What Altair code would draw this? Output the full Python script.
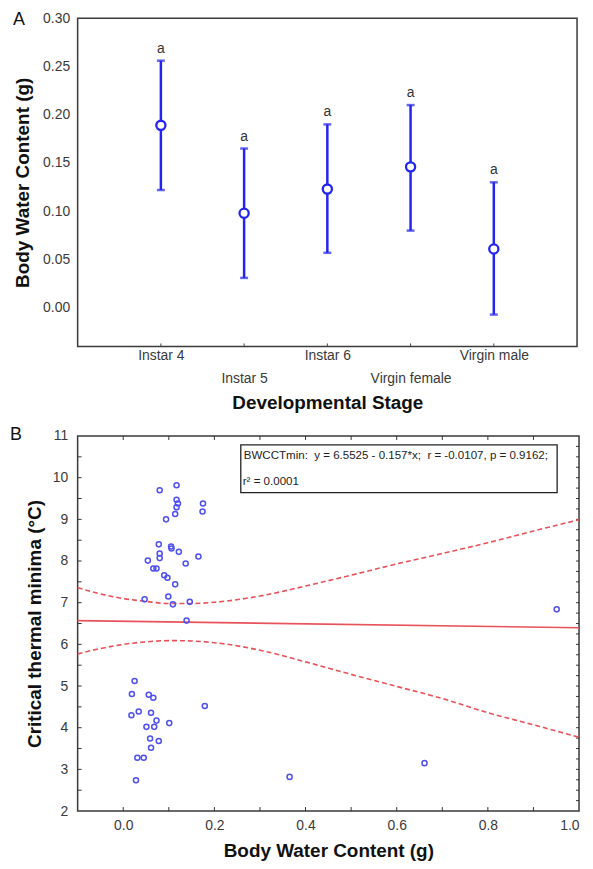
import altair as alt
import pandas as pd

# ---------------- Panel A data ----------------
stages = ["Instar 4", "Instar 5", "Instar 6", "Virgin female", "Virgin male"]
bwc_mean = [0.189, 0.098, 0.123, 0.146, 0.061]
bwc_low = [0.122, 0.031, 0.057, 0.080, -0.007]
bwc_high = [0.256, 0.165, 0.190, 0.210, 0.130]
letters = ["a", "a", "a", "a", "a"]
y_ticks_a = [0.00, 0.05, 0.10, 0.15, 0.20, 0.25, 0.30]

# ---------------- Panel B data ----------------
scatter_x = [0.080, 0.117, 0.117, 0.120, 0.117, 0.114, 0.094, 0.175, 0.174, 0.078,
             0.080, 0.080, 0.105, 0.106, 0.122, 0.165, 0.054, 0.137, 0.066, 0.073,
             0.090, 0.097, 0.114, 0.047, 0.099, 0.109, 0.146, 0.139,
             0.025, 0.019, 0.056, 0.066, 0.018, 0.034, 0.061, 0.073, 0.051, 0.068,
             0.101, 0.179, 0.059, 0.078, 0.061, 0.031, 0.045, 0.028,
             0.365, 0.661, 0.951]
scatter_y = [9.70, 9.82, 9.47, 9.38, 9.29, 9.13, 9.00, 9.38, 9.19, 8.40,
             8.18, 8.07, 8.35, 8.30, 8.22, 8.11, 8.01, 7.94, 7.82, 7.82,
             7.66, 7.60, 7.44, 7.08, 7.15, 6.96, 7.02, 6.57,
             5.12, 4.81, 4.79, 4.72, 4.30, 4.39, 4.36, 4.17, 4.02, 4.02,
             4.11, 4.52, 3.74, 3.68, 3.52, 3.28, 3.28, 2.74,
             2.82, 3.15, 6.84]

fit_x = [-0.1, 1.0]
fit_y = [6.57, 6.40]

ci_x = [-0.1, -0.05, 0.0, 0.05, 0.1, 0.15, 0.2, 0.3, 0.4, 0.5, 0.6, 0.7, 0.8, 0.9, 1.0]
ci_upper = [7.36, 7.21, 7.10, 7.03, 6.98, 6.98, 7.01, 7.16, 7.40, 7.66, 7.93, 8.18, 8.44, 8.72, 8.99]
ci_lower = [5.77, 5.90, 6.00, 6.06, 6.09, 6.08, 6.04, 5.86, 5.58, 5.28, 4.99, 4.70, 4.36, 4.07, 3.77]

x_ticks_b = [0.0, 0.2, 0.4, 0.6, 0.8, 1.0]
y_ticks_b = [2, 3, 4, 5, 6, 7, 8, 9, 10, 11]
minor_x_b = [0.0, 0.1, 0.2, 0.3, 0.4, 0.5, 0.6, 0.7, 0.8, 0.9]
minor_y_b = [2.5, 3.0, 3.5, 4.0, 4.5, 5.0, 5.5, 6.0, 6.5, 7.0, 7.5, 8.0, 8.5,
             9.0, 9.5, 10.0, 10.5]
right_y_b = [2.25, 2.5, 2.75, 3.0, 3.25, 3.5, 3.75, 4.0, 4.25, 4.5, 4.75, 5.0,
             5.25, 5.5, 5.75, 6.0, 6.25, 6.5, 6.75, 7.0, 7.25, 7.5, 7.75, 8.0,
             8.25, 8.5, 8.75, 9.0, 9.25, 9.5, 9.75, 10.0, 10.25, 10.5, 10.75]

annot_line1 = "BWCCTmin:\u00a0\u00a0y = 6.5525 - 0.157*x;\u00a0\u00a0r = -0.0107, p = 0.9162;"
annot_line2 = "r\u00b2 = 0.0001"

BLUE = "#2424f0"
PBLUE = "#5050ef"
RED = "#e8525a"
FONT = "Liberation Sans"

# ---------------- Panel A ----------------
WA, HA = 502, 330
dfA = pd.DataFrame({"stage": stages, "mean": bwc_mean, "low": bwc_low,
                    "high": bwc_high, "letter": letters})

xA = alt.X("stage:N", sort=stages,
           scale=alt.Scale(type="point", padding=1),
           axis=alt.Axis(title="Developmental Stage", labelAngle=0,
                         labelExpr="indexof(['Instar 5','Virgin female'], datum.label) >= 0 ? ['', datum.label] : datum.label",
                         labelLineHeight=23, labelPadding=2, titlePadding=8))
yA_scale = alt.Scale(domain=[-0.04, 0.30], nice=False, zero=False)
yA_axis = alt.Axis(values=y_ticks_a, format=".2f", title="Body Water Content (g)",
                   labelPadding=8, titlePadding=10)

baseA = alt.Chart(dfA)
bars = baseA.mark_rule(color=BLUE, strokeWidth=2.5).encode(
    x=xA, y=alt.Y("low:Q", scale=yA_scale, axis=yA_axis), y2="high:Q")
cap_hi = baseA.mark_tick(color=BLUE, orient="horizontal", size=8, thickness=2.5).encode(
    x=xA, y=alt.Y("high:Q", scale=yA_scale, axis=yA_axis))
cap_lo = baseA.mark_tick(color=BLUE, orient="horizontal", size=8, thickness=2.5).encode(
    x=xA, y=alt.Y("low:Q", scale=yA_scale, axis=yA_axis))
pts = baseA.mark_point(shape="circle", filled=True, fill="white", stroke=BLUE,
                       strokeWidth=2.3, size=85, opacity=1).encode(
    x=xA, y=alt.Y("mean:Q", scale=yA_scale, axis=yA_axis))
lets = baseA.mark_text(fontSize=14, color="#333", baseline="alphabetic", dy=-8).encode(
    x=xA, y=alt.Y("high:Q", scale=yA_scale, axis=yA_axis), text="letter:N")
ticksA = baseA.mark_rule(color="#444", strokeWidth=1).encode(
    x=xA, y=alt.value(HA), y2=alt.value(HA - 3))
labelA = alt.Chart(pd.DataFrame({"lbl": ["A"]})).mark_text(
    fontSize=18, align="left", baseline="middle", color="#111").encode(
    text="lbl:N", x=alt.value(-65), y=alt.value(2))

panelA = alt.layer(ticksA, bars, cap_hi, cap_lo, pts, lets, labelA).properties(
    width=WA, height=HA)

# ---------------- Panel B ----------------
WB, HB = 504, 377
xB_scale = alt.Scale(domain=[-0.1, 1.0], nice=False, zero=False)
yB_scale = alt.Scale(domain=[2, 11], nice=False, zero=False)
xB = alt.X("x:Q", scale=xB_scale,
           axis=alt.Axis(values=x_ticks_b, format=".1f", title="Body Water Content (g)",
                         labelPadding=8, titlePadding=9))
yB = alt.Y("y:Q", scale=yB_scale,
           axis=alt.Axis(values=y_ticks_b, format="d", title="Critical thermal minima (\u00b0C)",
                         labelPadding=10, titlePadding=8))

dfS = pd.DataFrame({"x": scatter_x, "y": scatter_y})
dfFit = pd.DataFrame({"x": fit_x, "y": fit_y})
dfUp = pd.DataFrame({"x": ci_x, "y": ci_upper})
dfLo = pd.DataFrame({"x": ci_x, "y": ci_lower})

fit = alt.Chart(dfFit).mark_line(color=RED, strokeWidth=1.6).encode(x=xB, y=yB)
up = alt.Chart(dfUp).mark_line(color=RED, strokeWidth=1.6, strokeDash=[5, 3],
                               interpolate="monotone").encode(x=xB, y=yB)
lo = alt.Chart(dfLo).mark_line(color=RED, strokeWidth=1.6, strokeDash=[5, 3],
                               interpolate="monotone").encode(x=xB, y=yB)
scat = alt.Chart(dfS).mark_point(shape="circle", filled=False, color=PBLUE,
                                 strokeWidth=1.5, size=26, opacity=1).encode(x=xB, y=yB)

dfMx = pd.DataFrame({"x": minor_x_b})
dfMy = pd.DataFrame({"y": minor_y_b})
dfRy = pd.DataFrame({"y": right_y_b})
tb = alt.Chart(dfMx).mark_rule(color="#333").encode(x=xB, y=alt.value(HB), y2=alt.value(HB - 4))
tt = alt.Chart(dfMx).mark_rule(color="#333").encode(x=xB, y=alt.value(0), y2=alt.value(4))
tl = alt.Chart(dfMy).mark_rule(color="#333").encode(y=yB, x=alt.value(0), x2=alt.value(4))
tr = alt.Chart(dfRy).mark_rule(color="#333").encode(y=yB, x=alt.value(WB), x2=alt.value(WB - 3))

one = pd.DataFrame({"l1": [annot_line1], "l2": [annot_line2], "lbl": ["B"]})
box = alt.Chart(one).mark_rect(fill="white", stroke="#222", strokeWidth=1.3).encode(
    x=alt.value(164), x2=alt.value(482), y=alt.value(9), y2=alt.value(57))
t1 = alt.Chart(one).mark_text(font=FONT, fontSize=11.6, align="left",
                              baseline="middle", color="#222").encode(
    text="l1:N", x=alt.value(167), y=alt.value(20))
t2 = alt.Chart(one).mark_text(font=FONT, fontSize=11.6, align="left",
                              baseline="middle", color="#222").encode(
    text="l2:N", x=alt.value(166), y=alt.value(46))
labelB = alt.Chart(one).mark_text(fontSize=18, align="left", baseline="middle",
                                  color="#111").encode(
    text="lbl:N", x=alt.value(-68), y=alt.value(-1))

panelB = alt.layer(tb, tt, tl, tr, fit, up, lo, scat, box, t1, t2, labelB).properties(
    width=WB, height=HB)

chart = alt.vconcat(panelA, panelB, spacing=12).properties(
    padding={"left": 1, "top": 0, "right": 2, "bottom": 0}
).configure(font=FONT).configure_view(
    stroke="#3a3a3a", strokeWidth=1.5
).configure_axis(
    grid=False, domain=False, ticks=False,
    labelFontSize=14, labelColor="#3a3a3a", labelFont=FONT,
    titleFontSize=19, titleFontWeight="bold", titleColor="#111", titleFont=FONT
)

chart.save("out.html", embed_options={"renderer": "svg", "actions": False})
